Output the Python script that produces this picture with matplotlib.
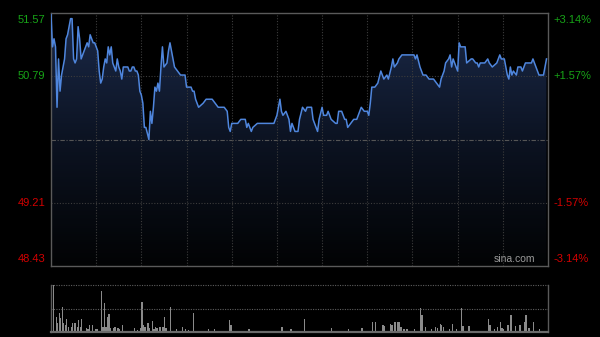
#!/usr/bin/env python3
from __future__ import annotations

import matplotlib

matplotlib.use("Agg")

import matplotlib.pyplot as plt
import numpy as np
from matplotlib.colors import LinearSegmentedColormap

PREV_CLOSE = 50.00
PRICE_TICKS = [51.57, 50.79, 49.21, 48.43]
PCT_LABELS = ["+3.14%", "+1.57%", "-1.57%", "-3.14%"]
SESSION_MINUTES = 330

# minute index -> last price
minutes = [
    0, 1, 2, 3, 4, 5, 6, 7, 9, 10, 11, 12, 13, 14, 15, 16, 17, 18, 19, 20,
    21, 23, 24, 25, 26, 27, 28, 29, 30, 31, 32, 33, 34, 35, 36, 37, 38, 39, 40, 41,
    42, 43, 44, 45, 46, 47, 48, 51, 52, 53, 54, 55, 56, 57, 58, 59, 60, 61, 62, 63,
    65, 66, 67, 68, 69, 70, 71, 72, 73, 74, 75, 77, 78, 79, 80, 81, 82, 84, 86, 89,
    90, 93, 94, 95, 96, 97, 98, 101, 103, 107, 109, 111, 115, 117, 118, 119, 120, 124, 126, 129,
    130, 131, 132, 133, 134, 137, 148, 150, 152, 153, 154, 156, 158, 159, 160, 162, 164, 165, 167, 169,
    170, 173, 174, 175, 177, 178, 180, 181, 183, 184, 186, 189, 190, 191, 193, 195, 196, 197, 199, 201,
    203, 205, 206, 208, 210, 211, 212, 213, 215, 217, 219, 220, 221, 223, 224, 226, 227, 228, 230, 231,
    233, 241, 242, 243, 245, 247, 249, 251, 254, 256, 258, 259, 261, 262, 264, 265, 266, 267, 268, 270,
    271, 272, 275, 276, 279, 280, 282, 283, 284, 285, 288, 290, 291, 293, 296, 298, 299, 301, 302, 303,
    304, 305, 306, 307, 309, 310, 312, 313, 315, 319, 320, 321, 323, 324, 326, 327, 328, 329,
]
prices = [
    51.55, 51.15, 51.25, 51.15, 50.40, 51.00, 50.60, 50.80, 51.00, 51.25, 51.30, 51.40, 51.50, 51.50, 51.00, 50.95, 51.00, 51.40, 51.25, 51.00,
    51.05, 51.15, 51.20, 51.15, 51.30, 51.25, 51.20, 51.20, 51.15, 51.10, 50.85, 50.70, 50.75, 50.90, 51.00, 50.95, 51.15, 51.05, 51.15, 50.95,
    50.90, 50.85, 51.00, 50.90, 50.85, 50.75, 50.90, 50.90, 50.85, 50.85, 50.90, 50.90, 50.85, 50.85, 50.80, 50.60, 50.55, 50.45, 50.15, 50.15,
    50.00, 50.35, 50.20, 50.40, 50.65, 50.60, 50.70, 50.60, 50.90, 51.15, 50.90, 50.95, 51.10, 51.20, 51.10, 51.00, 50.90, 50.85, 50.80, 50.80,
    50.65, 50.65, 50.60, 50.60, 50.50, 50.45, 50.40, 50.45, 50.50, 50.50, 50.45, 50.40, 50.40, 50.35, 50.15, 50.10, 50.20, 50.20, 50.25, 50.25,
    50.15, 50.20, 50.15, 50.10, 50.15, 50.20, 50.20, 50.30, 50.50, 50.35, 50.30, 50.35, 50.25, 50.10, 50.20, 50.10, 50.10, 50.25, 50.40, 50.35,
    50.40, 50.40, 50.25, 50.20, 50.10, 50.25, 50.40, 50.30, 50.30, 50.35, 50.25, 50.20, 50.20, 50.35, 50.35, 50.25, 50.25, 50.15, 50.20, 50.25,
    50.25, 50.35, 50.40, 50.35, 50.35, 50.30, 50.45, 50.65, 50.65, 50.70, 50.85, 50.80, 50.75, 50.80, 50.75, 50.90, 51.00, 50.90, 50.95, 51.00,
    51.05, 51.05, 51.00, 51.05, 50.90, 50.80, 50.80, 50.75, 50.75, 50.70, 50.65, 50.75, 50.85, 50.95, 51.00, 51.05, 50.90, 51.00, 50.95, 50.85,
    51.20, 51.15, 51.15, 50.95, 51.00, 51.00, 50.95, 50.95, 50.90, 50.95, 50.95, 51.00, 50.95, 50.90, 50.95, 51.05, 51.00, 51.00, 50.90, 50.80,
    50.75, 50.90, 50.80, 50.85, 50.80, 50.90, 50.90, 50.85, 50.95, 50.95, 51.00, 50.95, 50.85, 50.80, 50.80, 50.80, 50.90, 51.00,
]

# volume bars (minute, lots); small baseline minutes left out
vol_minutes = [
    0, 1, 3, 4, 5, 6, 7, 8, 9, 10, 11, 13, 14, 15, 16, 17, 18, 19, 20, 23,
    24, 25, 27, 29, 30, 33, 34, 35, 36, 37, 38, 39, 41, 42, 44, 45, 47, 49, 55, 57,
    59, 60, 61, 62, 64, 65, 67, 68, 69, 70, 72, 74, 75, 76, 79, 80, 83, 87, 89, 91,
    94, 97, 104, 108, 118, 119, 131, 153, 159, 168, 186, 197, 206, 213, 215, 220, 221, 225, 226, 228,
    230, 231, 232, 234, 236, 241, 245, 246, 248, 252, 255, 256, 258, 259, 260, 264, 266, 269, 272, 273,
    277, 284, 290, 291, 294, 296, 298, 299, 300, 303, 305, 308, 311, 314, 315, 317, 320, 324, 329,
]
volumes = [
    287, 470, 153, 87, 187, 137, 253, 87, 70, 127, 53, 53, 87, 87, 87, 53, 120, 53, 127, 37,
    27, 70, 70, 27, 27, 413, 53, 287, 53, 153, 180, 37, 37, 53, 37, 27, 70, 13, 37, 20,
    37, 303, 70, 53, 87, 37, 113, 27, 47, 37, 53, 53, 153, 37, 253, 13, 27, 53, 27, 20,
    193, 13, 27, 27, 120, 70, 27, 47, 27, 127, 37, 27, 37, 103, 103, 70, 60, 80, 70, 103,
    103, 103, 53, 27, 27, 27, 237, 170, 53, 27, 53, 37, 80, 70, 53, 27, 80, 27, 237, 60,
    60, 13, 127, 70, 27, 47, 103, 37, 27, 70, 170, 60, 70, 103, 170, 37, 103, 27, 10,
]
VOL_MAX = 470

BG = "#000000"
FRAME = "#5a5a5a"
GRID = "#3c3c3c"
LINE = "#4f86dd"
UP = "#17a317"
DOWN = "#d40000"


def price_fmt(v: float) -> str:
    return f"{v:.2f}"


def _draw_price(ax: plt.Axes) -> None:
    x = np.array(minutes, dtype=float)
    y = np.array(prices, dtype=float)
    lo, hi = PRICE_TICKS[-1], PRICE_TICKS[0]

    # gradient fill under the line, clipped to the area polygon
    poly = ax.fill_between(x, y, lo, color="none", linewidth=0)
    cmap = LinearSegmentedColormap.from_list("fade", ["#020304", "#0c1322", "#1b2a4a"])
    grad = np.linspace(0, 1, 256).reshape(-1, 1)
    img = ax.imshow(
        grad,
        cmap=cmap,
        aspect="auto",
        origin="lower",
        extent=(0, SESSION_MINUTES, lo, hi),
        zorder=1,
    )
    img.set_clip_path(poly.get_paths()[0], transform=ax.transData)

    ax.plot(x, y, color=LINE, linewidth=1.1, zorder=3)

    for v in (PRICE_TICKS[1], PRICE_TICKS[2]):
        ax.axhline(v, color=GRID, linewidth=0.8, linestyle=(0, (1, 1.5)), zorder=2)
    ax.axhline(PREV_CLOSE, color="#555555", linewidth=0.8, linestyle=(0, (4, 1.5, 1, 1.5)), zorder=2)
    for t in range(30, SESSION_MINUTES, 30):
        ax.axvline(t, color=GRID, linewidth=0.8, linestyle=(0, (1, 1.5)), zorder=2)

    ax.set_xlim(0, SESSION_MINUTES)
    ax.set_ylim(lo, hi)
    ax.set_xticks([])
    ax.set_yticks([])

    vas = ["top", "center", "center", "bottom"]
    for price, pct, va in zip(PRICE_TICKS, PCT_LABELS, vas):
        color = UP if price > PREV_CLOSE else DOWN
        off = {"top": -1.5, "center": 0, "bottom": 1.5}[va]
        ax.annotate(price_fmt(price), (0, price), xycoords=("axes fraction", "data"),
                    xytext=(-4, off), textcoords="offset points",
                    ha="right", va=va, color=color, fontsize=8)
        ax.annotate(pct, (1, price), xycoords=("axes fraction", "data"),
                    xytext=(4, off), textcoords="offset points",
                    ha="left", va=va, color=color, fontsize=8)

    ax.text(0.975, 0.008, "sina.com", transform=ax.transAxes, ha="right", va="bottom",
            color="#9a9a9a", fontsize=7.5, zorder=4)


def _draw_volume(ax: plt.Axes) -> None:
    ax.bar(vol_minutes, volumes, width=0.9, color="#8a8a8a", linewidth=0, align="edge")
    ax.set_xlim(0, SESSION_MINUTES)
    ax.set_ylim(0, VOL_MAX)
    for v in (VOL_MAX / 2, VOL_MAX):
        ax.axhline(v, color="#5e5e5e", linewidth=0.8, linestyle=(0, (1, 1.2)), clip_on=False)
    ax.set_xticks([])
    ax.set_yticks([])
    ax.spines["top"].set_visible(False)
    ax.spines["bottom"].set_linewidth(1.6)
    ax.spines["bottom"].set_color("#6a6a6a")


def main() -> int:
    plt.rcParams["font.family"] = ["Liberation Sans", "DejaVu Sans"]
    fig = plt.figure(figsize=(6.0, 3.37), dpi=100, facecolor=BG)

    ax = fig.add_axes((51 / 600, 1 - 266 / 337, 497 / 600, 253 / 337), facecolor=BG)
    ax_vol = fig.add_axes((51 / 600, 1 - 332 / 337, 497 / 600, 47 / 337), facecolor=BG)
    for a in (ax, ax_vol):
        for s in a.spines.values():
            s.set_color(FRAME)
            s.set_linewidth(1.0)

    _draw_price(ax)
    _draw_volume(ax_vol)

    fig.savefig("out.png", dpi=100, facecolor=BG)
    plt.close(fig)
    return 0


if __name__ == "__main__":
    raise SystemExit(main())
